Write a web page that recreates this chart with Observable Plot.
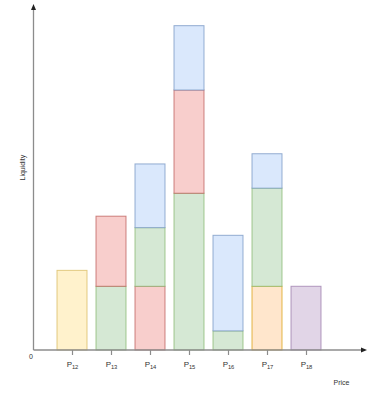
<!DOCTYPE html>
<html>
<head>
<meta charset="utf-8">
<script src="https://cdn.jsdelivr.net/npm/d3@7"></script>
<script src="https://cdn.jsdelivr.net/npm/@observablehq/plot@0.6"></script>
<style>
  html, body { margin: 0; padding: 0; background: #fff; }
</style>
</head>
<body>
<div id="chart"></div>
<script>
// Price levels and their subscripts
const categories = ["P12", "P13", "P14", "P15", "P16", "P17", "P18"];
const subscripts = ["12", "13", "14", "15", "16", "17", "18"];

// Stacked layers (bottom to top) per price level; liquidity in units
const layer1Values = [1.25, 1.00, 1.00, 2.46, 0.30, 1.00, 1.00];
const layer1Colors = ["yellow", "green", "red", "green", "green", "orange", "purple"];
const layer2Values = [0, 1.10, 0.92, 1.62, 1.50, 1.54, 0];
const layer2Colors = [null, "red", "green", "red", "blue", "green", null];
const layer3Values = [0, 0, 1.00, 1.01, 0, 0.54, 0];
const layer3Colors = [null, null, "blue", "blue", null, "blue", null];

const palette = {
  yellow: {fill: "#fff2cc", stroke: "#d6b656"},
  green:  {fill: "#d5e8d4", stroke: "#82b366"},
  red:    {fill: "#f8cecc", stroke: "#b85450"},
  blue:   {fill: "#dae8fc", stroke: "#6c8ebf"},
  orange: {fill: "#ffe6cc", stroke: "#d79b00"},
  purple: {fill: "#e1d5e7", stroke: "#9673a6"}
};

const yMax = 5.43;

const segments = [];
[[layer1Values, layer1Colors], [layer2Values, layer2Colors], [layer3Values, layer3Colors]].forEach(([vals, cols]) => {
  categories.forEach((c, i) => {
    if (vals[i] > 0 && cols[i]) {
      segments.push({price: c, value: vals[i], fill: palette[cols[i]].fill, stroke: palette[cols[i]].stroke});
    }
  });
});

function axesMark(index, scales, values, dims) {
  const {width, marginLeft, marginRight, marginTop} = dims;
  const y0 = scales.y(0);
  const x0 = marginLeft;
  const xEnd = width - marginRight;
  const g = d3.create("svg:g");
  g.append("line").attr("x1", x0).attr("x2", xEnd - 4).attr("y1", y0).attr("y2", y0)
    .attr("stroke", "#8c8c8c").attr("stroke-width", 1.3);
  g.append("path").attr("d", `M${xEnd},${y0}l-6,-2.5v5z`).attr("fill", "#222");
  g.append("line").attr("x1", x0).attr("x2", x0).attr("y1", y0).attr("y2", marginTop + 4)
    .attr("stroke", "#8c8c8c").attr("stroke-width", 1.3);
  g.append("path").attr("d", `M${x0},${marginTop}l-2.5,6h5z`).attr("fill", "#222");
  return g.node();
}

const chart = Plot.plot({
  width: 385,
  height: 400,
  marginLeft: 33.5,
  marginRight: 18,
  marginTop: 4,
  marginBottom: 50,
  style: {fontFamily: "'Liberation Sans', Arial, sans-serif", background: "#fff"},
  x: {type: "band", domain: categories, range: [52.3, 325.3], paddingInner: 0.23, paddingOuter: 0.115, axis: null},
  y: {domain: [0, yMax], axis: null},
  color: {type: "identity"},
  marks: [
    Plot.rectY(segments, {x: "price", y: "value", fill: "fill", stroke: "stroke", strokeWidth: 1, strokeOpacity: 0.7}),
    axesMark,
    Plot.axisX({tickSize: 5, tickFormat: () => "", label: null, stroke: "#8c8c8c", strokeWidth: 1.2}),
    Plot.text(categories, {x: d => d, text: () => "P", frameAnchor: "bottom", textAnchor: "end", dx: -0.5, dy: 16.5, fontSize: 8, fill: "#333"}),
    Plot.text(categories, {x: d => d, text: (d, i) => subscripts[i], frameAnchor: "bottom", textAnchor: "start", dx: -0.6, dy: 18.8, fontSize: 5.8, fill: "#333"}),
    Plot.text(["0"], {text: d => d, frameAnchor: "bottom-left", dx: -5, dy: 8.5, fontSize: 7, fill: "#333"}),
    Plot.text(["Price"], {text: d => d, frameAnchor: "bottom-right", dx: -18, dy: 34, fontSize: 7, fill: "#333"}),
    Plot.text(["Liquidity"], {text: d => d, frameAnchor: "left", dx: -11.5, dy: 3, rotate: -90, fontSize: 7, fill: "#333"})
  ]
});

document.getElementById("chart").appendChild(chart);
</script>
</body>
</html>
